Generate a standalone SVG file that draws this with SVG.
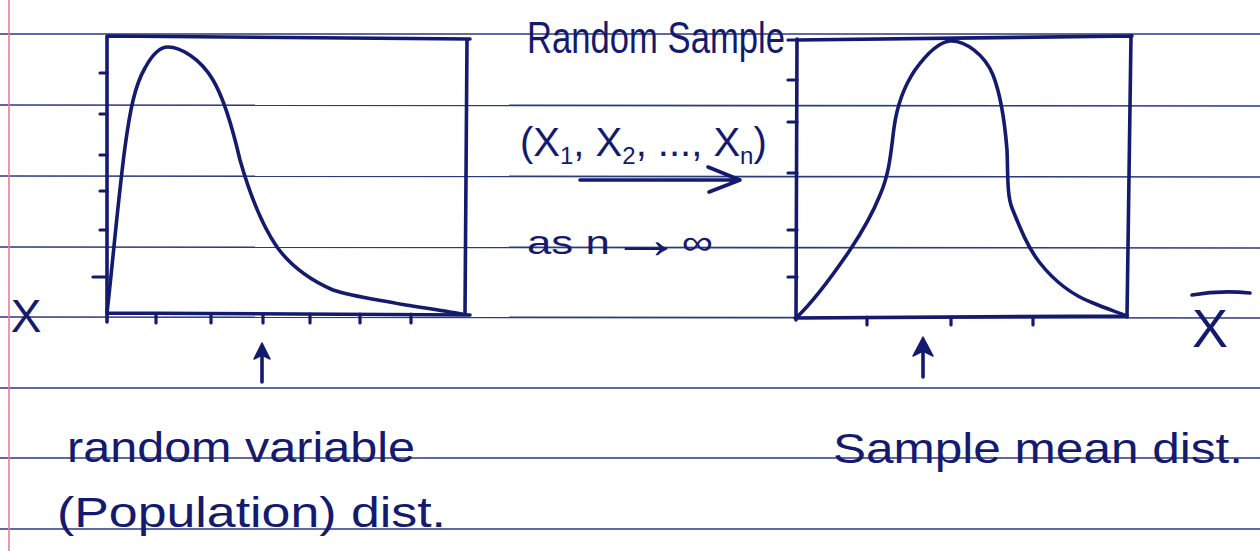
<svg xmlns="http://www.w3.org/2000/svg" width="1260" height="551" viewBox="0 0 1260 551">
<style>
.rule{stroke:#2b3a78;stroke-width:1.6;fill:none}
.margin{stroke:#ec7a98;stroke-width:1.6;fill:none}
.ink{stroke:#141a6e;stroke-width:3.6;fill:none;stroke-linecap:round;stroke-linejoin:round}
.tick{stroke:#141a6e;stroke-width:3.2;fill:none;stroke-linecap:round}
.txt{font-family:"Liberation Sans",Arial,sans-serif;fill:#141a6e}
.head{fill:#141a6e;stroke:#141a6e;stroke-width:1.5;stroke-linejoin:round}
</style>
<rect width="1260" height="551" fill="#ffffff"/>
<g id="paper">
<line class="rule" x1="0" y1="34" x2="1260" y2="34"/>
<line class="rule" x1="0" y1="105" x2="1260" y2="106"/>
<line class="rule" x1="0" y1="176" x2="1260" y2="177"/>
<line class="rule" x1="0" y1="247" x2="1260" y2="248"/>
<line class="rule" x1="0" y1="317" x2="1260" y2="318"/>
<line class="rule" x1="0" y1="388" x2="1260" y2="388"/>
<line class="rule" x1="0" y1="458" x2="1260" y2="458"/>
<line class="rule" x1="0" y1="529" x2="1260" y2="529"/>
<line class="margin" x1="9" y1="0" x2="9" y2="551"/>
</g>
<g id="population-plot">
<path class="ink" d="M107,36 L470,39 M467,40 L465,315 M107,313 L470,315 M107,36 L107,322"/>
<path class="tick" d="M100,73 H107 M100,114 H107 M100,155 H107 M100,191 H107 M100,230 H107 M93,277 H107 M156,314 V323 M211,314 V323 M263,314 V323 M310,314 V323 M360,314 V323 M411,314 V323"/>
<path class="ink" d="M107,313 C112,270 118,200 125,147 C130,110 135,85 145,68 C152,55 160,47 168,47 C180,47 200,58 213,80 C225,100 233,130 240,160 C250,195 262,225 277,247 C290,265 310,280 333,290 C350,296 380,300 400,304 C425,308 445,311 462,314"/>
<text class="txt" x="26" y="332" font-size="46" text-anchor="middle">X</text>
</g>
<g id="sample-mean-plot">
<path class="ink" d="M797,40 L1132,36 M1131,36 L1127,317 M795,318 L1127,316 M797,39 L796,320"/>
<path class="tick" d="M788,40 H797 M788,80 H797 M788,122 H797 M788,173 H797 M788,230 H797 M788,277 H797 M867,317 V325 M951,317 V325 M1033,317 V325"/>
<path class="ink" d="M797,317 C815,300 835,272 850,250 C862,232 872,215 880,195 C890,172 891,150 894,128 C897,105 905,85 915,70 C928,52 940,42 950,41 C965,40 985,55 993,75 C1002,98 1005,125 1007,150 C1008,175 1007,195 1012,208 C1020,228 1028,248 1040,263 C1055,282 1072,295 1093,303 C1105,308 1117,312 1127,316"/>
<path class="ink" d="M1192,295 Q1220,290 1250,293"/>
<text class="txt" x="1210" y="347" font-size="54" text-anchor="middle">X</text>
</g>
<g id="sampling-label">
<text class="txt" x="527" y="53" font-size="44" textLength="258" lengthAdjust="spacingAndGlyphs">Random Sample</text>
<text class="txt" x="520" y="156" font-size="40">(X<tspan font-size="24" dy="8">1</tspan><tspan dy="-8">, X</tspan><tspan font-size="24" dy="8">2</tspan><tspan dy="-8">, ..., X</tspan><tspan font-size="24" dy="8">n</tspan><tspan dy="-8">)</tspan></text>
<text class="txt" x="527" y="254" font-size="34" textLength="186" lengthAdjust="spacingAndGlyphs">as n<tspan font-size="56" dy="4">→</tspan><tspan dy="-4">∞</tspan></text>
</g>
<g id="population-label">
<text class="txt" x="67" y="462" font-size="42" textLength="348" lengthAdjust="spacingAndGlyphs">random variable</text>
<text class="txt" x="57" y="527" font-size="42" textLength="389" lengthAdjust="spacingAndGlyphs">(Population) dist.</text>
</g>
<g id="sample-mean-label">
<text class="txt" x="833" y="463" font-size="42" textLength="410" lengthAdjust="spacingAndGlyphs">Sample mean dist.</text>
</g>
<g id="connectors">
<path class="ink" stroke-width="4.5" d="M580,180 L738,180 M708,167 L740,180 L709,192"/>
<path class="ink" stroke-width="3" d="M262,382 V348"/>
<path class="head" d="M262,343 L254,359 L262,355 L270,359 Z"/>
<path class="ink" stroke-width="3" d="M923,377 V342"/>
<path class="head" d="M923,337 L913,356 L923,351 L933,356 Z"/>
</g>
</svg>
